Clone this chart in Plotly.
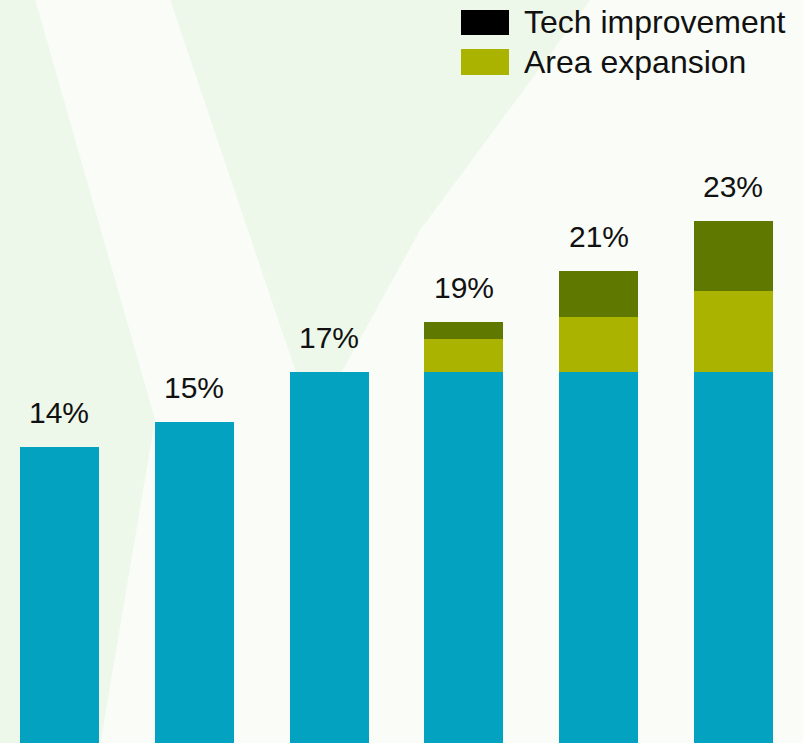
import plotly.graph_objects as go

# data (percent)
positions = [0, 1, 2, 3, 4, 5]
base = [14.0, 15.0, 17.0, 17.0, 17.0, 17.0]
area_expansion = [0.0, 0.0, 0.0, 1.3, 2.2, 3.2]
tech_improvement = [0.0, 0.0, 0.0, 0.7, 1.8, 2.8]
total_labels = ["14%", "15%", "17%", "19%", "21%", "23%"]

teal = "#02A2C0"
olive = "#AAB400"
dark_olive = "#5E7800"
font_family = "Liberation Sans, Arial, sans-serif"

totals = [b + a + t for b, a, t in zip(base, area_expansion, tech_improvement)]

fig = go.Figure()
fig.add_trace(go.Bar(x=positions, y=base, name="Base", marker=dict(color=teal, line=dict(width=0))))
fig.add_trace(go.Bar(x=positions, y=area_expansion, name="Area expansion",
                     marker=dict(color=olive, line=dict(width=0))))
fig.add_trace(go.Bar(x=positions, y=tech_improvement, name="Tech improvement",
                     marker=dict(color=dark_olive, line=dict(width=0))))

# value labels above each stack
for pos, tot, lab in zip(positions, totals, total_labels):
    fig.add_annotation(x=pos, y=tot, text=lab, showarrow=False, yanchor="bottom", yshift=16,
                       font=dict(size=30, color="#111111", family=font_family))

# background: pale green with light rays
green = "#EDF8EA"
shapes = [
    dict(type="path", xref="paper", yref="paper", layer="below", line=dict(width=0), fillcolor=green,
         path="M 0 1 L 0.044 1 L 0.193 0.435 L 0.125 0 L 0 0 Z"),
    dict(type="path", xref="paper", yref="paper", layer="below", line=dict(width=0), fillcolor=green,
         path="M 0.212 1 L 0.735 1 L 0.523 0.69 L 0.39 0.43 Z"),
    # legend swatches
    dict(type="rect", xref="paper", yref="paper", x0=461 / 803, x1=509 / 803,
         y0=1 - 35 / 743, y1=1 - 10 / 743, fillcolor="#000000", line=dict(width=0)),
    dict(type="rect", xref="paper", yref="paper", x0=461 / 803, x1=509 / 803,
         y0=1 - 75 / 743, y1=1 - 49 / 743, fillcolor=olive, line=dict(width=0)),
]
for lab, yc in [("Tech improvement", 22), ("Area expansion", 62)]:
    fig.add_annotation(x=522 / 803, y=1 - yc / 743, xref="paper", yref="paper", text=lab,
                       showarrow=False, xanchor="left", yanchor="middle",
                       font=dict(size=32, color="#111111", family=font_family))

fig.update_layout(
    width=803, height=743,
    margin=dict(l=0, r=0, t=0, b=0),
    barmode="stack", bargap=0.414,
    showlegend=False,
    paper_bgcolor="#F9FCF7", plot_bgcolor="rgba(0,0,0,0)",
    shapes=shapes,
    xaxis=dict(visible=False, range=[-0.441, 5.516]),
    yaxis=dict(visible=False, range=[2.21, 31.81]),
)

fig.write_html("out.html", config={"displayModeBar": False},
               post_script="document.body.style.margin='0';")
